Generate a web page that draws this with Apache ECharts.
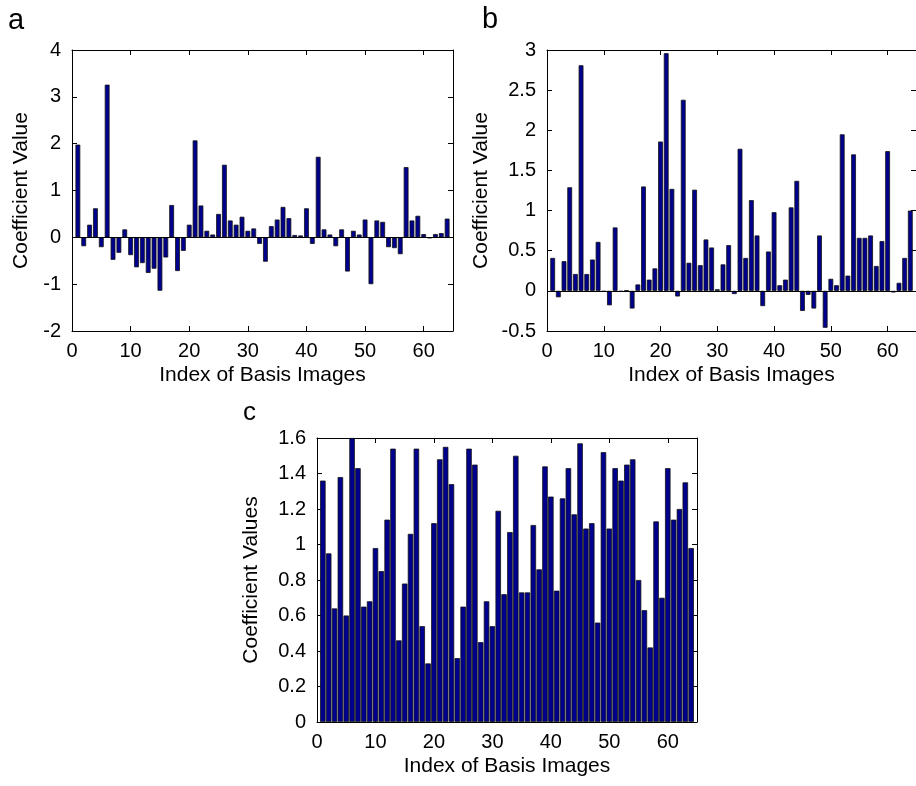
<!DOCTYPE html>
<html>
<head>
<meta charset="utf-8">
<script src="https://cdn.jsdelivr.net/npm/echarts@6/dist/echarts.min.js"></script>
<style>
    html, body { margin: 0; padding: 0; background: #fff; }
    #chart { width: 916px; height: 786px; }
</style>
</head>
<body>
<div id="chart"></div>
<script>
// basis image index (x positions of bars)
const basisIndex = [
    1, 2, 3, 4, 5, 6, 7, 8, 9, 10, 11, 12, 13, 14, 15, 16,
    17, 18, 19, 20, 21, 22, 23, 24, 25, 26, 27, 28, 29, 30, 31, 32,
    33, 34, 35, 36, 37, 38, 39, 40, 41, 42, 43, 44, 45, 46, 47, 48,
    49, 50, 51, 52, 53, 54, 55, 56, 57, 58, 59, 60, 61, 62, 63, 64
];

// panel a coefficients
const coefA = [
    1.98, -0.19, 0.27, 0.62, -0.21, 3.26, -0.48, -0.33, 0.17, -0.38, -0.64, -0.55, -0.76, -0.67, -1.14, -0.43,
    0.69, -0.72, -0.29, 0.27, 2.07, 0.68, 0.14, 0.06, 0.50, 1.55, 0.36, 0.27, 0.44, 0.14, 0.19, -0.14,
    -0.52, 0.24, 0.38, 0.65, 0.41, 0.05, 0.04, 0.62, -0.14, 1.72, 0.17, 0.06, -0.19, 0.17, -0.73, 0.14,
    0.06, 0.38, -1.00, 0.36, 0.33, -0.21, -0.23, -0.36, 1.50, 0.36, 0.46, 0.07, -0.02, 0.07, 0.09, 0.40
];

// panel b coefficients
const coefB = [
    0.41, -0.08, 0.37, 1.29, 0.21, 2.81, 0.21, 0.39, 0.61, -0.01, -0.18, 0.79, -0.01, 0.005, -0.22, 0.08,
    1.30, 0.14, 0.28, 1.86, 2.96, 1.27, -0.07, 2.38, 0.35, 1.26, 0.32, 0.64, 0.54, 0.02, 0.33, 0.57,
    -0.04, 1.77, 0.41, 1.13, 0.69, -0.19, 0.49, 0.98, 0.07, 0.14, 1.04, 1.37, -0.25, -0.05, -0.22, 0.69,
    -0.46, 0.15, 0.07, 1.95, 0.19, 1.70, 0.66, 0.66, 0.69, 0.31, 0.62, 1.74, -0.02, 0.10, 0.41, 1.00
];

// panel c coefficients
const coefC = [
    1.36, 0.95, 0.64, 1.38, 0.60, 1.60, 1.43, 0.65, 0.68, 0.98, 0.85, 1.14, 1.54, 0.46, 0.78, 1.06,
    1.54, 0.54, 0.33, 1.12, 1.48, 1.55, 1.34, 0.36, 0.65, 1.54, 1.45, 0.45, 0.68, 0.54, 1.19, 0.72,
    1.07, 1.50, 0.73, 0.73, 1.11, 0.86, 1.44, 1.27, 0.74, 1.26, 1.43, 1.17, 1.57, 1.09, 1.12, 0.56,
    1.52, 1.09, 1.43, 1.36, 1.45, 1.48, 0.80, 0.63, 0.42, 1.13, 0.70, 1.43, 1.14, 1.20, 1.35, 0.98
];

const FONT = 'Liberation Sans, Arial, sans-serif';
const BAR_COLOR = '#00008F';

// panel layout (pixels); panel b runs past the right edge like the original
const panels = [
    { key: 'a', data: coefA, yMin: -2, yMax: 4, yStep: 1, yName: 'Coefficient Value',
      grid: { left: 72, top: 50, width: 381, height: 281 }, nameGap: 40, barWidth: 4.8, base: true },
    { key: 'b', data: coefB, yMin: -0.5, yMax: 3, yStep: 0.5, yName: 'Coefficient Value',
      grid: { left: 547, top: 50, right: -8, height: 281 }, nameGap: 55, barWidth: 4.8, base: true },
    { key: 'c', data: coefC, yMin: 0, yMax: 1.6, yStep: 0.2, yName: 'Coefficient Values',
      grid: { left: 317, top: 438, width: 380, height: 284 }, nameGap: 55, barWidth: 5.5, base: false }
];

function initChart() {
    const chart = echarts.init(document.getElementById('chart'), null, { renderer: 'canvas' });

    const axisLine = { show: true, onZero: false, lineStyle: { color: '#000', width: 1 } };
    const tick = { show: true, inside: true, length: 5, lineStyle: { color: '#000', width: 1 } };
    const labelStyle = { color: '#000', fontFamily: FONT, fontSize: 20 };
    const nameStyle = { color: '#000', fontFamily: FONT, fontSize: 21 };

    const grids = [], xAxes = [], yAxes = [], series = [];

    panels.forEach((p, i) => {
        grids.push(Object.assign({ containLabel: false }, p.grid));

        // bottom x axis with labels
        xAxes.push({
            gridIndex: i, type: 'value', position: 'bottom', min: 0, max: 65, interval: 10,
            axisLine: axisLine, axisTick: tick, splitLine: { show: false },
            axisLabel: Object.assign({ margin: 10, showMaxLabel: false }, labelStyle),
            name: 'Index of Basis Images', nameLocation: 'middle', nameGap: 34,
            nameTextStyle: nameStyle
        });
        // top x axis (frame + mirrored ticks)
        xAxes.push({
            gridIndex: i, type: 'value', position: 'top', min: 0, max: 65, interval: 10,
            axisLine: axisLine, axisTick: tick, axisLabel: { show: false }, splitLine: { show: false }
        });
        // left y axis
        yAxes.push({
            gridIndex: i, type: 'value', position: 'left', min: p.yMin, max: p.yMax, interval: p.yStep,
            axisLine: axisLine, axisTick: tick, splitLine: { show: false },
            axisLabel: Object.assign({ margin: 11 }, labelStyle),
            name: p.yName, nameLocation: 'middle', nameGap: p.nameGap,
            nameTextStyle: nameStyle
        });
        // right y axis
        yAxes.push({
            gridIndex: i, type: 'value', position: 'right', min: p.yMin, max: p.yMax, interval: p.yStep,
            axisLine: axisLine, axisTick: tick, axisLabel: { show: false }, splitLine: { show: false }
        });

        const s = {
            type: 'bar',
            name: p.key,
            xAxisIndex: i * 2,
            yAxisIndex: i * 2,
            barWidth: p.barWidth,
            clip: true,
            silent: true,
            itemStyle: { color: BAR_COLOR, borderColor: '#111', borderWidth: 0.8 },
            data: basisIndex.map((x, k) => [x, p.data[k]])
        };
        if (p.base) {
            s.markLine = {
                silent: true, symbol: 'none', label: { show: false },
                lineStyle: { color: '#000', width: 1, type: 'solid' },
                data: [{ yAxis: 0 }]
            };
        }
        series.push(s);
    });

    const titleStyle = (size) => ({ fontFamily: FONT, fontWeight: 'normal', fontSize: size, color: '#000' });

    const option = {
        animation: false,
        backgroundColor: '#fff',
        title: [
            { text: 'a', left: 8, top: 6, padding: 0, textStyle: titleStyle(29) },
            { text: 'b', left: 482, top: 5, padding: 0, textStyle: titleStyle(29) },
            { text: 'c', left: 243, top: 400, padding: 0, textStyle: titleStyle(26) }
        ],
        grid: grids,
        xAxis: xAxes,
        yAxis: yAxes,
        series: series
    };

    chart.setOption(option);
}

initChart();
</script>
</body>
</html>
